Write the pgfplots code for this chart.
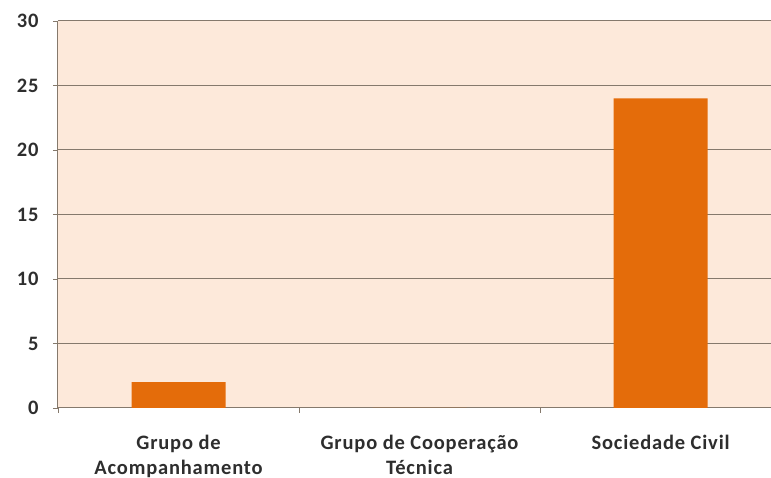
\documentclass[border=0pt]{standalone}
\usepackage{pgfplots}
\pgfplotsset{compat=1.18}
\usepackage{fontspec}
\setmainfont{Carlito}[LetterSpace=4]
\definecolor{bg}{HTML}{FDE9DA}
\definecolor{barc}{HTML}{E46C0A}
\definecolor{gridc}{HTML}{85796C}
\definecolor{txt}{HTML}{2E2E2E}
\begin{document}
\begin{tikzpicture}
\begin{axis}[
    name=ax,
    scale only axis,
    width=713pt, height=387pt,
    ybar, bar width=0.39,
    xmin=-0.5, xmax=2.458,
    ymin=0, ymax=30,
    ytick={0,5,...,30},
    xtick={-0.5,0.5,1.5},
    xticklabels={},
    extra x ticks={0,1,2},
    extra x tick labels={{Grupo de\\Acompanhamento},{Grupo de Cooperação\\Técnica},{Sociedade Civil}},
    extra x tick style={major tick length=0pt, grid=none,
        tick label style={align=center, yshift=-24pt}},
    ymajorgrids, grid style={gridc, line width=1pt},
    axis background/.style={fill=bg},
    axis line style={gridc, line width=1pt},
    axis x line*=bottom, axis y line*=left,
    tick style={gridc, line width=0.8pt},
    major tick length=5pt,
    tick align=outside,
    /pgf/number format/assume math mode=true,
    tick label style={font=\fontsize{20.5}{24.5}\selectfont\bfseries, text=txt},
    yticklabel style={xshift=-11pt},
    every outer x axis line/.append style={-},
    every outer y axis line/.append style={-},
]
\addplot[fill=barc, draw=none] coordinates {(0,2) (1,0) (2,24)};
\end{axis}
\pgfresetboundingbox
\path ([xshift=-58pt,yshift=-70pt]ax.south west) rectangle ([yshift=21pt]ax.north east);
\end{tikzpicture}
\end{document}
